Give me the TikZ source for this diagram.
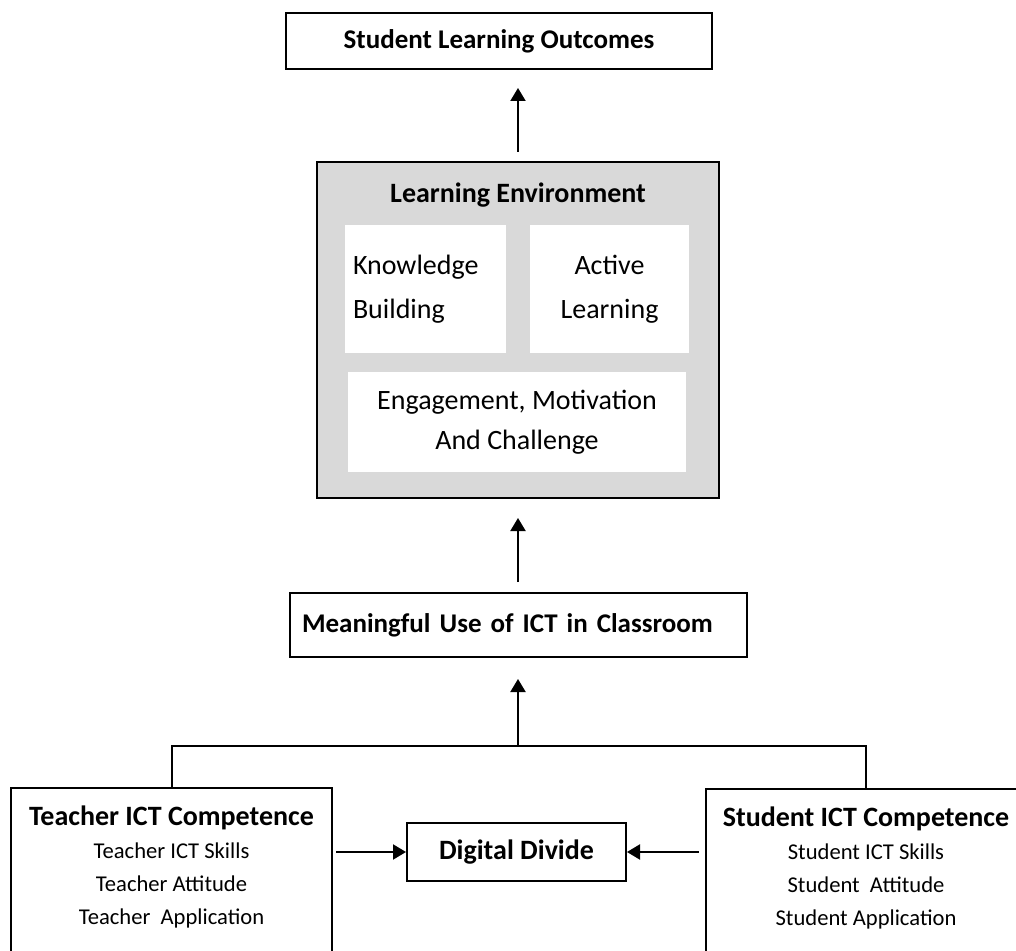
\documentclass[tikz,border=0pt]{standalone}
\usepackage{fontspec}
\setmainfont{Carlito}
\usetikzlibrary{arrows.meta,positioning}
\tikzset{
box/.style={draw, line width=1pt, font=\fontsize{14}{17}\selectfont\bfseries},
inbox/.style={fill=white, font=\fontsize{14}{22}\selectfont, align=center},
compbox/.style={draw, line width=1pt, minimum width=160.5pt, minimum height=100pt, anchor=north},
comptext/.style={font=\fontsize{11.3}{16.5}\selectfont, align=center, inner sep=0pt},
arr/.style={-{Triangle[width=7.5pt,length=6.5pt]}, line width=1pt}
}
\newcommand{\comptitle}[1]{{\fontsize{14}{19}\selectfont\bfseries #1}}

\begin{document}
\begin{tikzpicture}[x=0.5pt, y=-0.5pt]
\useasboundingbox (0,0) rectangle (1016,951);
\clip (0,0) rectangle (1016,951);

\node[box, minimum width=213pt, minimum height=28pt, font=\fontsize{13.5}{16}\selectfont\bfseries] (slo) at (499,41) {Student Learning Outcomes};

% learning environment with its three parts
\node[box, fill=black!15, minimum width=201pt, minimum height=168pt] (le) at (518,330) {};
\node[font=\fontsize{14}{17}\selectfont\bfseries] (letitle) at (518,195) {Learning Environment};
\node[inbox, minimum width=80.5pt, minimum height=64pt, text width=72.5pt, align=left, inner xsep=4pt] (kb) at (425.5,289) {Knowledge\\Building};
\node[inbox, minimum width=79.5pt, minimum height=64pt] (al) at (609.5,289) {Active\\Learning};
\node[inbox, minimum width=169pt, minimum height=50pt, font=\fontsize{14}{20}\selectfont] (emc) at (517,422) {Engagement, Motivation\\And Challenge};

\node[box, minimum width=228.5pt, minimum height=32pt, text width=216.5pt, align=left, inner xsep=6pt, font=\fontsize{13.5}{16}\selectfont\bfseries] (muc) at (518.5,625) {\mbox{Meaningful Use of ICT in Classroom}};

\node[box, minimum width=109.5pt, minimum height=29pt] (dd) at (516.5,852) {Digital Divide};

% competence boxes run off the page
\node[compbox] (tbox) at (171.5,787) {};
\node[comptext, below=9pt of tbox.north] (ttext) {\comptitle{Teacher ICT Competence}\\Teacher ICT Skills\\Teacher Attitude\\Teacher\ \ Application};
\node[compbox] (sbox) at (866,788) {};
\node[comptext, below=9pt of sbox.north] (stext) {\comptitle{Student ICT Competence}\\Student ICT Skills\\Student\ \ Attitude\\Student Application};

\draw[arr, shorten <=4.5pt, shorten >=9pt] (le.north) -- (slo.south -| le.north);
\draw[arr, shorten <=5pt, shorten >=9.5pt] (muc.north -| le.south) -- (le.south);

\coordinate (fork) at (518,746);
\draw[line width=1pt] (tbox.north) |- (fork) -| (sbox.north);
\draw[arr, shorten >=10.5pt] (fork) -- (fork |- muc.south);
\draw[arr, shorten <=1.5pt] (dd.west -| tbox.east) -- (dd.west);
\draw[arr, shorten <=3pt] (dd.east -| sbox.west) -- (dd.east);
\end{tikzpicture}
\end{document}
